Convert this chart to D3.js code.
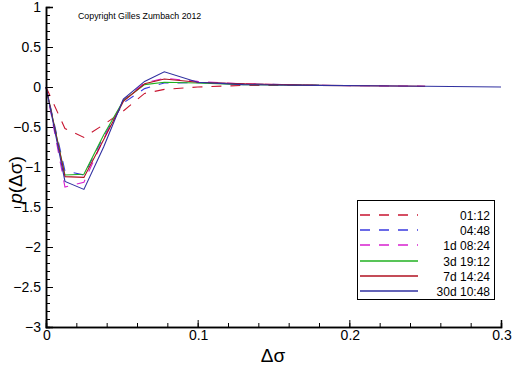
<!DOCTYPE html>
<html>
<head>
<meta charset="utf-8">
<script src="https://cdn.jsdelivr.net/npm/d3@7"></script>
<style>
  body { margin: 0; background: #fff; }
  svg { display: block; font-family: 'Liberation Sans', Arial, sans-serif; }
</style>
</head>
<body>
<div id="chart"></div>
<script>
// values
let seriesNames = ['01:12', '04:48', '1d 08:24', '3d 19:12', '7d 14:24', '30d 10:48']
let seriesX = [0, 0.0125, 0.025, 0.038, 0.051, 0.065, 0.078, 0.1, 0.13, 0.18, 0.25, 0.3]
let y0112 = [0, -0.52, -0.63, -0.47, -0.3, -0.08, -0.03, 0.0, 0.02, 0.02]
let y0448 = [0, -1.05, -1.1, -0.62, -0.2, -0.02, 0.05, 0.055, 0.04, 0.02]
let y1d0824 = [0, -1.25, -1.19, -0.65, -0.16, 0.05, 0.11, 0.07, 0.04, 0.02, 0.01]
let y3d1912 = [0, -1.1, -1.09, -0.6, -0.17, 0.03, 0.06, 0.05, 0.03, 0.02]
let y7d1424 = [0, -1.12, -1.13, -0.66, -0.18, 0.04, 0.1, 0.06, 0.04, 0.02, 0.01]
let y30d1048 = [0, -1.18, -1.28, -0.75, -0.15, 0.07, 0.19, 0.06, 0.03, 0.02, 0.01, 0]
let seriesY = [y0112, y0448, y1d0824, y3d1912, y7d1424, y30d1048]
let xTicks = [0, 0.1, 0.2, 0.3]
let yTicks = [-3, -2.5, -2, -1.5, -1, -0.5, 0, 0.5, 1]

let colors = ['#c81530', '#3a3ae0', '#d820d0', '#20b020', '#b01020', '#3030a0']
let dashes = ['10,9', '10,9', '10,9', null, null, null]

let width = 512
let height = 366
let margin = { top: 7, left: 46, right: 11, bottom: 39 }

let svg = d3.select('#chart')
  .append('svg')
  .attr('width', width)
  .attr('height', height)

let xPositionScale = d3.scaleLinear()
  .domain([0, 0.3])
  .range([margin.left, width - margin.right])
let yPositionScale = d3.scaleLinear()
  .domain([-3, 1])
  .range([height - margin.bottom, margin.top])

let line = d3.line()
  .x(d => xPositionScale(d[0]))
  .y(d => yPositionScale(d[1]))

// curves
seriesY.forEach((ys, i) => {
  let pts = ys.map((v, j) => [seriesX[j], v])
  svg.append('path')
    .datum(pts)
    .attr('d', line)
    .attr('fill', 'none')
    .attr('stroke', colors[i])
    .attr('stroke-width', 1.1)
    .attr('stroke-dasharray', dashes[i])
})

// axes, ticks pointing into the plot
let xMinor = d3.axisTop(xPositionScale)
  .tickValues(d3.range(0, 0.3001, 0.02))
  .tickSize(4).tickFormat('')
let xAxis = d3.axisTop(xPositionScale)
  .tickValues(xTicks)
  .tickSize(7).tickFormat('')
svg.append('g')
  .attr('class', 'axis x-axis')
  .attr('transform', `translate(0,${height - margin.bottom})`)
  .call(xMinor)
svg.append('g')
  .attr('class', 'axis x-axis')
  .attr('transform', `translate(0,${height - margin.bottom})`)
  .call(xAxis)

let yMinor = d3.axisRight(yPositionScale)
  .tickValues(d3.range(-30, 11, 1).map(d => d / 10))
  .tickSize(4).tickFormat('')
let yAxis = d3.axisRight(yPositionScale)
  .tickValues(yTicks)
  .tickSize(7).tickFormat('')
svg.append('g')
  .attr('class', 'axis y-axis')
  .attr('transform', `translate(${margin.left},0)`)
  .call(yMinor)
svg.append('g')
  .attr('class', 'axis y-axis')
  .attr('transform', `translate(${margin.left},0)`)
  .call(yAxis)

svg.selectAll('.axis path').attr('stroke', '#000').attr('stroke-width', 1.5)
svg.selectAll('.axis line').attr('stroke', '#000')

// tick labels
svg.append('g')
  .selectAll('text')
  .data(xTicks)
  .enter()
  .append('text')
  .attr('x', d => xPositionScale(d) + 1)
  .attr('y', 340)
  .attr('text-anchor', 'middle')
  .attr('font-size', 14)
  .text(d => d3.format('')(d))

svg.append('g')
  .selectAll('text')
  .data(yTicks)
  .enter()
  .append('text')
  .attr('x', margin.left - 5)
  .attr('y', d => yPositionScale(d) + 5)
  .attr('text-anchor', 'end')
  .attr('font-size', 14)
  .text(d => d3.format('')(d))

// axis titles
svg.append('text')
  .attr('x', 273)
  .attr('y', 362)
  .attr('text-anchor', 'middle')
  .attr('font-size', 19)
  .text('Δσ')

svg.append('text')
  .attr('transform', 'translate(22,180) rotate(-90)')
  .attr('text-anchor', 'middle')
  .attr('font-size', 19)
  .html('<tspan font-style="italic">p</tspan>(Δσ)')

svg.append('text')
  .attr('x', 78)
  .attr('y', 19)
  .attr('font-size', 8.8)
  .text('Copyright Gilles Zumbach 2012')

// legend
let legend = svg.append('g')
legend.append('rect')
  .attr('x', 357.5)
  .attr('y', 200.5)
  .attr('width', 137)
  .attr('height', 99)
  .attr('fill', '#fff')
  .attr('stroke', '#000')

seriesNames.forEach((name, i) => {
  let y = Math.round(215 + i * 15.2)
  legend.append('line')
    .attr('x1', 360).attr('x2', 418)
    .attr('y1', y).attr('y2', y)
    .attr('stroke', colors[i])
    .attr('stroke-width', 1.3)
    .attr('stroke-dasharray', dashes[i])
  legend.append('text')
    .attr('x', 490)
    .attr('y', y + 5)
    .attr('text-anchor', 'end')
    .attr('font-size', 12)
    .text(name)
})
</script>
</body>
</html>
